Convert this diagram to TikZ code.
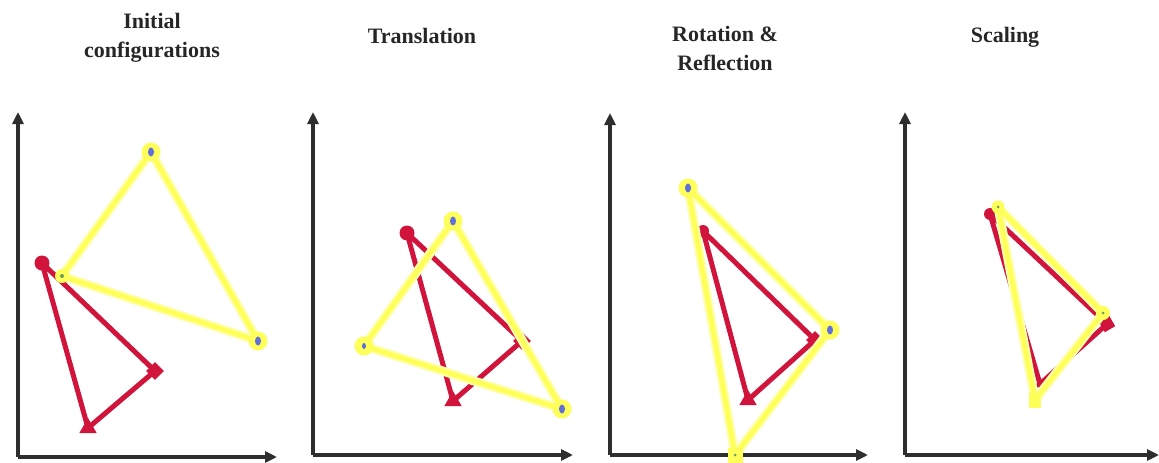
\documentclass[tikz,border=0pt]{standalone}
\usepackage{fontspec}
\setmainfont{Liberation Serif}
\usetikzlibrary{arrows.meta,shapes.geometric}
\definecolor{axisgray}{HTML}{2E2E2E}
\definecolor{tred}{HTML}{D0143C}
\definecolor{tyel}{HTML}{FFFF5A}
\definecolor{tglow}{HTML}{FFFFB0}
\definecolor{tblue}{HTML}{6070D8}
\definecolor{tgreen}{HTML}{6E9E5E}
\tikzset{
  axisline/.style={draw=axisgray, line width=3.5pt, -{Triangle[length=12pt,width=11pt]}},
  redline/.style={draw=tred, line width=5pt, line join=round},
  glowline/.style={draw=tglow, line width=9pt, line join=round},
  yelline/.style={draw=tyel, line width=5pt, line join=round},
  rcirc/.style={circle, fill=tred, inner sep=0pt, minimum size=15pt},
  rdiam/.style={diamond, fill=tred, inner sep=0pt, minimum size=18pt},
  rtri/.style={regular polygon, regular polygon sides=3, fill=tred, inner sep=0pt, minimum size=20pt},
  rsq/.style={rectangle, fill=tred, inner sep=0pt, minimum width=12pt, minimum height=12pt, rotate=30},
  yv/.style={circle, fill=tyel, inner sep=0pt, minimum size=19pt},
  ysq/.style={rectangle, fill=tyel, inner sep=0pt, minimum width=15pt, minimum height=15pt},
  bdot/.style={ellipse, fill=tblue, inner sep=0pt, minimum width=6pt, minimum height=9pt},
  gdot/.style={circle, fill=tgreen, inner sep=0pt, minimum size=4pt},
  titletext/.style={font=\fontsize{22}{29}\selectfont\bfseries, align=center, text=black!85}
}
\begin{document}
\begin{tikzpicture}[x=1pt,y=-1pt]
\useasboundingbox (0,0) rectangle (1159,463);

% ---------- titles ----------
\node[titletext] (t1) at (152,38) {Initial\\configurations};
\node[titletext] (t2) at (422,36) {Translation};
\node[titletext] (t3) at (725,48) {Rotation \&\\Reflection};
\node[titletext] (t4) at (1005,37) {Scaling};

% ---------- axes ----------
\coordinate (o1) at (18,457);  \coordinate (ya1) at (18,112);  \coordinate (xa1) at (277,457);
\coordinate (o2) at (313,455); \coordinate (ya2) at (313,112); \coordinate (xa2) at (573,455);
\coordinate (o3) at (610,455); \coordinate (ya3) at (610,113); \coordinate (xa3) at (868,455);
\coordinate (o4) at (905,455); \coordinate (ya4) at (905,112); \coordinate (xa4) at (1159,455);
\foreach \i in {1,2,3,4}{
  \draw[axisline] (o\i) -- (ya\i);
  \draw[axisline] (o\i) -- (xa\i);
}

% ---------- panel 1 ----------
\coordinate (r1a) at (42,263); \coordinate (r1b) at (155,371); \coordinate (r1c) at (88,428);
\coordinate (y1a) at (151,152); \coordinate (y1b) at (62,276); \coordinate (y1c) at (258,341);
\draw[redline] (r1a) -- (r1b) -- (r1c) -- cycle;
\node[rcirc] (r1an) at (r1a) {};
\node[rdiam] (r1bn) at (r1b) {};
\node[rtri] (r1cn) at (r1c) {};
\draw[glowline] (y1a) -- (y1b) -- (y1c) -- cycle;
\draw[yelline] (y1a) -- (y1b) -- (y1c) -- cycle;
\node[yv] (y1an) at (y1a) {}; \node[bdot] (y1ad) at (y1a) {};
\node[yv, minimum size=14pt] (y1bn) at (y1b) {}; \node[gdot] (y1bd) at (y1b) {};
\node[yv] (y1cn) at (y1c) {}; \node[bdot] (y1cd) at (y1c) {};

% ---------- panel 2 ----------
\coordinate (r2a) at (407,233); \coordinate (r2b) at (522,341); \coordinate (r2c) at (453,401);
\coordinate (y2a) at (453,221); \coordinate (y2b) at (364,346); \coordinate (y2c) at (562,409);
\draw[redline] (r2a) -- (r2b) -- (r2c) -- cycle;
\node[rcirc] (r2an) at (r2a) {};
\node[rdiam] (r2bn) at (r2b) {};
\node[rtri] (r2cn) at (r2c) {};
\draw[glowline] (y2a) -- (y2b) -- (y2c) -- cycle;
\draw[yelline] (y2a) -- (y2b) -- (y2c) -- cycle;
\node[yv] (y2an) at (y2a) {}; \node[bdot] (y2ad) at (y2a) {};
\node[yv] (y2bn) at (y2b) {}; \node[bdot, minimum width=4pt, minimum height=6pt] (y2bd) at (y2b) {};
\node[yv] (y2cn) at (y2c) {}; \node[bdot] (y2cd) at (y2c) {};

% ---------- panel 3 ----------
\coordinate (r3a) at (703,231); \coordinate (r3b) at (815,340); \coordinate (r3c) at (748,400);
\coordinate (y3a) at (688,188); \coordinate (y3b) at (830,330); \coordinate (y3c) at (735,455);
\draw[redline] (r3a) -- (r3b) -- (r3c) -- cycle;
\node[rcirc, minimum size=12pt] (r3an) at (r3a) {};
\node[rdiam] (r3bn) at (r3b) {};
\node[rtri] (r3cn) at (r3c) {};
\draw[glowline] (y3a) -- (y3b) -- (y3c) -- cycle;
\draw[yelline] (y3a) -- (y3b) -- (y3c) -- cycle;
\node[yv] (y3an) at (y3a) {}; \node[bdot] (y3ad) at (y3a) {};
\node[yv] (y3bn) at (y3b) {}; \node[bdot] (y3bd) at (y3b) {};
\node[ysq] (y3cn) at (y3c) {}; \node[gdot, minimum size=3pt] (y3cd) at (y3c) {};

% ---------- panel 4 ----------
\coordinate (r4a) at (990,214); \coordinate (r4b) at (1107,324); \coordinate (r4c) at (1040,384);
\coordinate (y4a) at (998,207); \coordinate (y4b) at (1103,313); \coordinate (y4c) at (1035,400);
\draw[redline] (r4a) -- (r4b) -- (r4c) -- cycle;
\node[rcirc, minimum size=12pt] (r4an) at (r4a) {};
\node[rsq] (r4bn) at (r4b) {};
\node[rtri, minimum size=13pt] (r4cn) at (r4c) {};
\draw[glowline] (y4a) -- (y4b) -- (y4c) -- cycle;
\draw[yelline] (y4a) -- (y4b) -- (y4c) -- cycle;
\node[yv, minimum size=13pt] (y4an) at (y4a) {}; \node[gdot, minimum size=3pt] (y4ad) at (y4a) {};
\node[yv, minimum size=14pt] (y4bn) at (y4b) {}; \node[gdot, minimum size=3pt] (y4bd) at (y4b) {};
\node[ysq, minimum width=12pt, minimum height=15pt] (y4cn) at (y4c) {};
\end{tikzpicture}
\end{document}
